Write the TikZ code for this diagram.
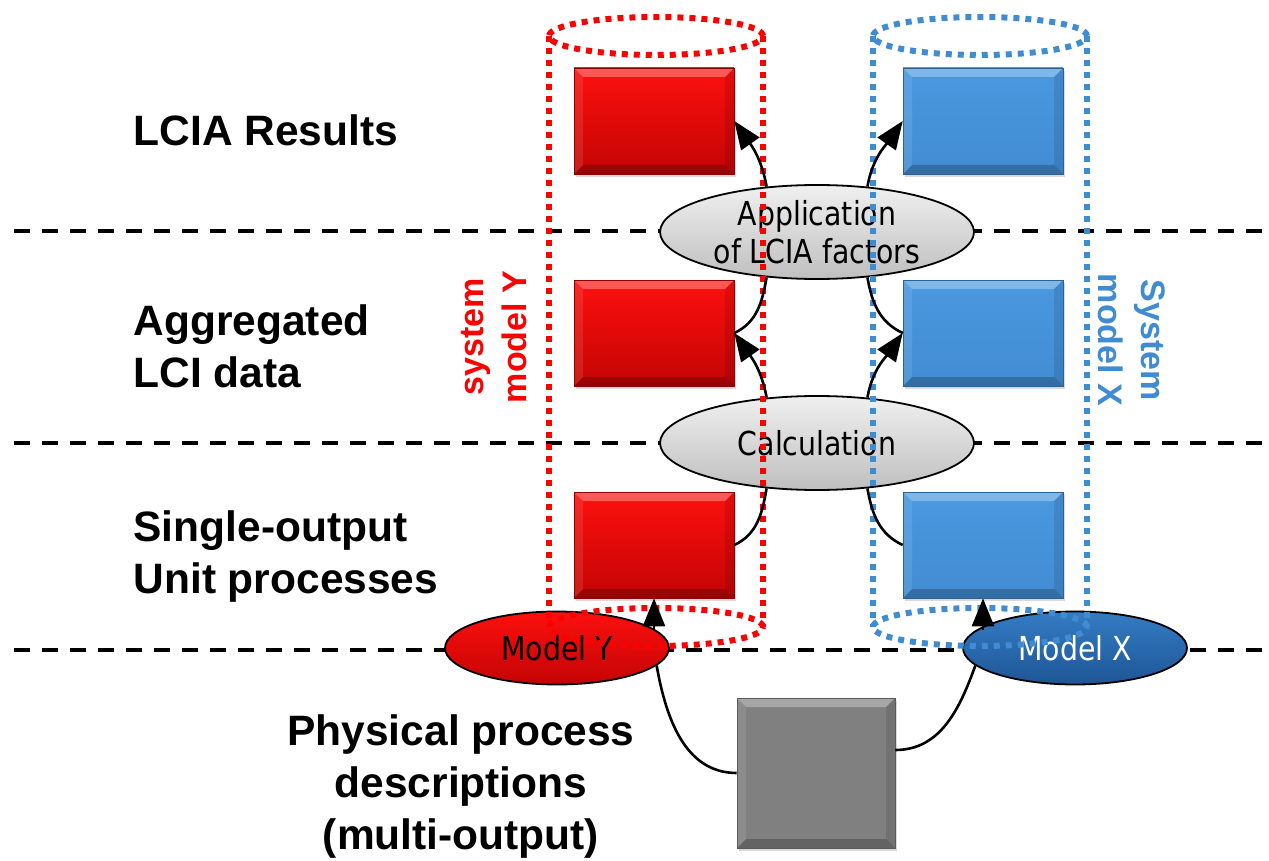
\documentclass[tikz,border=0pt]{standalone}
\usepackage{fontspec}
\setmainfont{Liberation Sans}
\newfontfamily\ovalfont[FakeStretch=0.86]{DejaVu Sans}
\usetikzlibrary{shapes.geometric, arrows.meta, shadows}

\definecolor{boxred}{RGB}{252,16,14}
\definecolor{boxreddark}{RGB}{196,4,4}
\definecolor{boxblue}{RGB}{74,152,224}
\definecolor{boxbluedark}{RGB}{66,140,210}
\definecolor{dotred}{RGB}{255,0,0}
\definecolor{dotblue}{RGB}{64,140,210}
\definecolor{ovalblue}{RGB}{52,124,196}
\definecolor{ovalbluedark}{RGB}{30,86,150}
\definecolor{boxgray}{RGB}{128,128,128}

\tikzset{
  bevel/.style={path picture={
    \fill[white, opacity=0.3] (path picture bounding box.north west) -- (path picture bounding box.north east)
      -- ([shift={(-9pt,-9pt)}]path picture bounding box.north east) -- ([shift={(9pt,-9pt)}]path picture bounding box.north west) -- cycle;
    \fill[black, opacity=0.22] (path picture bounding box.south west) -- (path picture bounding box.south east)
      -- ([shift={(-9pt,9pt)}]path picture bounding box.south east) -- ([shift={(9pt,9pt)}]path picture bounding box.south west) -- cycle;
    \fill[white, opacity=0.1] (path picture bounding box.north west) -- ([shift={(9pt,-9pt)}]path picture bounding box.north west)
      -- ([shift={(9pt,9pt)}]path picture bounding box.south west) -- (path picture bounding box.south west) -- cycle;
    \fill[black, opacity=0.1] (path picture bounding box.north east) -- ([shift={(-9pt,-9pt)}]path picture bounding box.north east)
      -- ([shift={(-9pt,9pt)}]path picture bounding box.south east) -- (path picture bounding box.south east) -- cycle;
  }},
  resultbox/.style={rectangle, minimum width=160pt, minimum height=106pt, inner sep=0pt, bevel,
    drop shadow={opacity=0.3, shadow xshift=2pt, shadow yshift=-3pt}},
  redbox/.style={resultbox, top color=boxred, bottom color=boxreddark, draw=boxreddark!70!black, line width=0.6pt},
  bluebox/.style={resultbox, top color=boxblue, bottom color=boxbluedark, draw=boxbluedark!70!black, line width=0.6pt},
  graybox/.style={resultbox, minimum width=158pt, minimum height=150pt, fill=boxgray, draw=boxgray!70!black, line width=0.6pt},
  grayoval/.style={ellipse, draw, line width=1.8pt, top color=gray!12, bottom color=gray!50,
    minimum width=314pt, minimum height=94pt, inner sep=0pt, align=center,
    font=\ovalfont\fontsize{33}{38}\selectfont},
  modeloval/.style={ellipse, draw, line width=1.8pt, minimum width=224pt, minimum height=73pt, inner sep=0pt,
    font=\ovalfont\fontsize{33}{38}\selectfont},
  layer/.style={anchor=west, align=left, font=\bfseries\fontsize{42.5}{52}\selectfont},
  sysname/.style={align=center, font=\bfseries\fontsize{34}{43}\selectfont},
  divider/.style={line width=4pt, dash pattern=on 16pt off 12pt},
  reddots/.style={dotred, line width=6pt, dash pattern=on 6pt off 6pt},
  bluedots/.style={dotblue, line width=6pt, dash pattern=on 6pt off 6pt},
  conn/.style={line width=2.6pt},
  arr/.style={conn, -{Triangle[length=28pt, width=22pt]}}
}

\begin{document}
\begin{tikzpicture}[x=1pt, y=-1pt]
    \useasboundingbox (0,0) rectangle (1269,861);

    % layer borders
    \draw[divider] (14,231) -- (1262,231);
    \draw[divider] (14,443) -- (1262,443);
    \draw[divider] (14,650) -- (1262,650);

    % layer names
    \node[layer] (lcia) at (130,130) {LCIA Results};
    \node[layer] (agg) at (130,346) {Aggregated\\LCI data};
    \node[layer] (unit) at (130,557) {Single-output\\Unit processes};
    \node[layer, anchor=center, align=center] (physlbl) at (461,787) {Physical process\\descriptions\\(multi-output)};

    % datasets
    \node[redbox]  (r1) at (654,121) {};
    \node[bluebox] (b1) at (983,121) {};
    \node[redbox]  (r2) at (654,333) {};
    \node[bluebox] (b2) at (983,333) {};
    \node[redbox]  (r3) at (654,545) {};
    \node[bluebox] (b3) at (983,545) {};
    \node[graybox] (phys) at (816,773) {};

    % steps
    \node[grayoval] (app) at (817,232) {Application\\of LCIA factors};
    \node[grayoval] (calc) at (817,443) {Calculation};
    \node[modeloval, top color=boxred, bottom color=boxreddark] (my) at (557,648) {Model Y};
    \node[modeloval, top color=ovalblue, bottom color=ovalbluedark, text=white] (mx) at (1075,648) {Model X};

    % system models
    \draw[reddots] (549,36) -- (549,627);
    \draw[reddots] (763,36) -- (763,627);
    \draw[reddots] (656,36) ellipse [x radius=107pt, y radius=19pt];
    \draw[reddots] (656,627) ellipse [x radius=107pt, y radius=19pt];
    \draw[bluedots] (873,36) -- (873,627);
    \draw[bluedots] (1087,36) -- (1087,627);
    \draw[bluedots] (980,36) ellipse [x radius=107pt, y radius=19pt];
    \draw[bluedots] (980,627) ellipse [x radius=107pt, y radius=19pt];
    \node[sysname, text=dotred, rotate=90] (sysy) at (494,337) {system\\model Y};
    \node[sysname, text=dotblue, rotate=-90] (sysx) at (1132,340) {System\\model X};

    % flows
    \draw[arr] (app.138) to[out=100, in=-55] (r1.east);
    \draw[arr] (app.42) to[out=80, in=-125] (b1.west);
    \draw[conn] (r2.east) to[out=25, in=-100] (app.222);
    \draw[conn] (b2.west) to[out=155, in=-80] (app.318);
    \draw[arr] (calc.138) to[out=100, in=-55] (r2.east);
    \draw[arr] (calc.42) to[out=80, in=-125] (b2.west);
    \draw[conn] (r3.east) to[out=25, in=-100] (calc.222);
    \draw[conn] (b3.west) to[out=155, in=-80] (calc.318);
    \draw[arr] (r3.south |- my.10) -- (r3.south);
    \draw[arr] (b3.south |- mx.170) -- (b3.south);
    \draw[conn] (my.-10) to[out=-80, in=180] (phys.west);
    \draw[conn] ([yshift=23pt]phys.east) to[out=0, in=-110] (mx.190);
\end{tikzpicture}
\end{document}
